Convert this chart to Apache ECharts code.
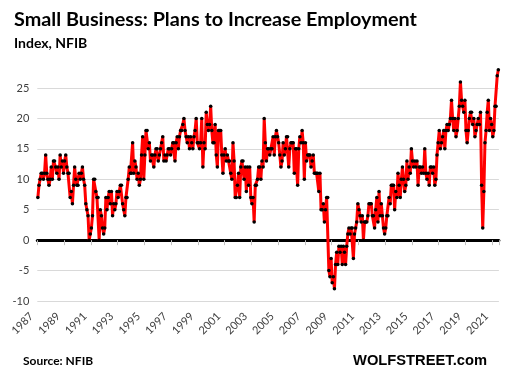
<!DOCTYPE html>
<html><head><meta charset="utf-8">
<script src="https://cdn.jsdelivr.net/npm/echarts@6/dist/echarts.min.js"></script>
<style>html,body{margin:0;padding:0;background:#fff}#c{width:506px;height:380px}</style>
</head><body><div id="c"></div>
<script>
const titleText = 'Small Business: Plans to Increase Employment';
const subtitleText = 'Index, NFIB';
const sourceText = 'Source: NFIB';
const brandText = 'WOLFSTREET.com';
const startYear = 1987;
const yMin = -10, yMax = 25, yStep = 5;

// Monthly values, Jan 1987 .. Jun 2021 (one row per year)
const values1987to1993 = [
  7, 9, 10, 11, 11, 10, 11, 14, 11, 10, 9, 10,
  12, 10, 13, 13, 12, 11, 12, 10, 14, 12, 13, 11,
  13, 14, 12, 11, 11, 7, 8, 6, 9, 12, 10, 9,
  9, 11, 10, 11, 12, 10, 9, 6, 5, 4, 0, 1,
  2, 4, 10, 10, 8, 7, 7, 0, 5, 4, 2, 1,
  2, 7, 5, 7, 8, 6, 8, 4, 6, 5, 6, 8,
  7, 8, 9, 9, 6, 5, 4, 7, 7, 10, 12, 11
];
const values1994to2000 = [
  11, 16, 11, 13, 12, 10, 11, 9, 10, 14, 17, 10,
  14, 18, 18, 15, 16, 13, 14, 14, 12, 14, 15, 15,
  13, 14, 15, 16, 17, 13, 14, 13, 14, 15, 15, 14,
  15, 16, 16, 13, 16, 17, 15, 17, 18, 18, 19, 20,
  18, 17, 16, 17, 15, 17, 16, 15, 17, 18, 20, 16,
  16, 15, 16, 20, 12, 16, 15, 21, 19, 18, 19, 22,
  18, 16, 16, 19, 14, 12, 18, 18, 18, 14, 11, 14
];
const values2001to2007 = [
  15, 13, 14, 13, 13, 11, 10, 16, 13, 7, 7, 9,
  11, 7, 12, 13, 13, 10, 12, 8, 12, 9, 12, 7,
  6, 7, 3, 9, 9, 10, 12, 12, 10, 13, 12, 20,
  16, 13, 15, 15, 14, 15, 15, 17, 14, 17, 18, 17,
  16, 14, 12, 13, 16, 14, 15, 17, 17, 12, 15, 16,
  16, 16, 11, 15, 15, 9, 15, 17, 16, 18, 16, 10,
  16, 13, 14, 14, 14, 12, 13, 14, 11, 11, 11, 11
];
const values2008to2014 = [
  8, 11, 5, 5, 6, 3, 5, 7, 7, -5, -6, -3,
  -7, -6, -8, -4, -2, -4, -1, -2, -1, -4, -1, -2,
  -4, -1, 1, 2, 1, 2, 2, -3, 1, 2, 3, 6,
  5, 4, 3, 4, 0, 3, 3, 3, 4, 6, 6, 6,
  4, 4, 2, 5, 7, 3, 8, 4, 6, 4, 2, 1,
  2, 4, 4, 7, 6, 9, 9, 9, 5, 8, 7, 11,
  9, 7, 10, 12, 10, 8, 9, 13, 10, 12, 11, 15
];
const values2015to2021 = [
  13, 12, 13, 12, 13, 9, 12, 12, 11, 12, 11, 15,
  11, 10, 11, 9, 12, 12, 11, 12, 9, 10, 14, 16,
  18, 15, 16, 17, 18, 15, 18, 19, 18, 19, 20, 23,
  20, 18, 20, 17, 18, 20, 22, 26, 23, 22, 21, 23,
  18, 16, 18, 20, 21, 21, 19, 20, 17, 18, 19, 20,
  19, 21, 9, 2, 8, 16, 18, 21, 23, 18, 20, 19,
  17, 18, 22, 22, 27, 28
];

const values = [].concat(values1987to1993, values1994to2000, values2001to2007, values2008to2014, values2015to2021);
const months = values.map((v, i) => (startYear + Math.floor(i / 12)) + '-' + String(i % 12 + 1).padStart(2, '0'));
const everyTwoYears = (idx) => idx % 24 === 0;

// font size that makes a text span a given width
function fitSize(text, weight, family, target) {
  const ctx = document.createElement('canvas').getContext('2d');
  ctx.font = weight + ' 100px ' + family;
  return 100 * target / ctx.measureText(text).width;
}
const TITLE_FAMILY = 'Lato';
const BRAND_FAMILY = '"Liberation Sans Narrow", "Liberation Sans", sans-serif';
const titleSize = Math.min(21, fitSize(titleText, 'bold', TITLE_FAMILY, 403));
const brandSize = Math.min(19, fitSize(brandText, 'bold', BRAND_FAMILY, 134));

const chart = echarts.init(document.getElementById('c'), null, {renderer: 'canvas'});
const FONT = 'Lato';
chart.setOption({
  animation: false,
  backgroundColor: '#ffffff',
  grid: {left: 37.3, right: 7.1, top: 88, bottom: 79, outerBoundsMode: 'none'},
  xAxis: [{
    type: 'category', data: months, boundaryGap: true, position: 'bottom',
    axisLine: {show: false, onZero: false}, axisTick: {show: false}, splitLine: {show: false},
    axisLabel: {interval: everyTwoYears, rotate: 45, margin: 7, padding: [0, 9, 0, 0], fontFamily: FONT, fontSize: 11, color: '#404040',
      formatter: (v) => v.slice(0, 4)}
  }, {
    type: 'category', data: months, boundaryGap: true, position: 'bottom',
    axisLine: {show: true, onZero: true, lineStyle: {color: '#000000', width: 3}},
    axisTick: {show: true, interval: everyTwoYears, length: 5, lineStyle: {color: '#BFBFBF', width: 1}},
    axisLabel: {show: false}, splitLine: {show: false}
  }],
  yAxis: {
    type: 'value', min: yMin, max: yMax, interval: yStep,
    axisLine: {show: false}, axisTick: {show: false},
    splitLine: {lineStyle: {color: '#D9D9D9', width: 1}},
    axisLabel: {margin: 8, fontFamily: FONT, fontSize: 11, color: '#404040'}
  },
  series: [{
    type: 'line', data: values, xAxisIndex: 0, clip: false,
    showAllSymbol: true, symbol: 'circle', symbolSize: 3.5,
    itemStyle: {color: '#000000'},
    lineStyle: {color: '#FF0000', width: 3},
    z: 5
  }],
  graphic: [
    {type: 'text', left: 14, top: 26 - 0.83 * titleSize, style: {text: titleText, font: 'bold ' + titleSize.toFixed(2) + 'px ' + TITLE_FAMILY, fill: '#000'}},
    {type: 'text', left: 14, top: 36, style: {text: subtitleText, font: 'bold 14px Lato', fill: '#000'}},
    {type: 'text', left: 23, top: 355, style: {text: sourceText, font: 'bold 12px Lato', fill: '#000'}},
    {type: 'text', left: 353, top: 366 - 0.83 * brandSize, style: {text: brandText, font: 'bold ' + brandSize.toFixed(2) + 'px ' + BRAND_FAMILY, fill: '#000'}}
  ]
});
</script></body></html>
